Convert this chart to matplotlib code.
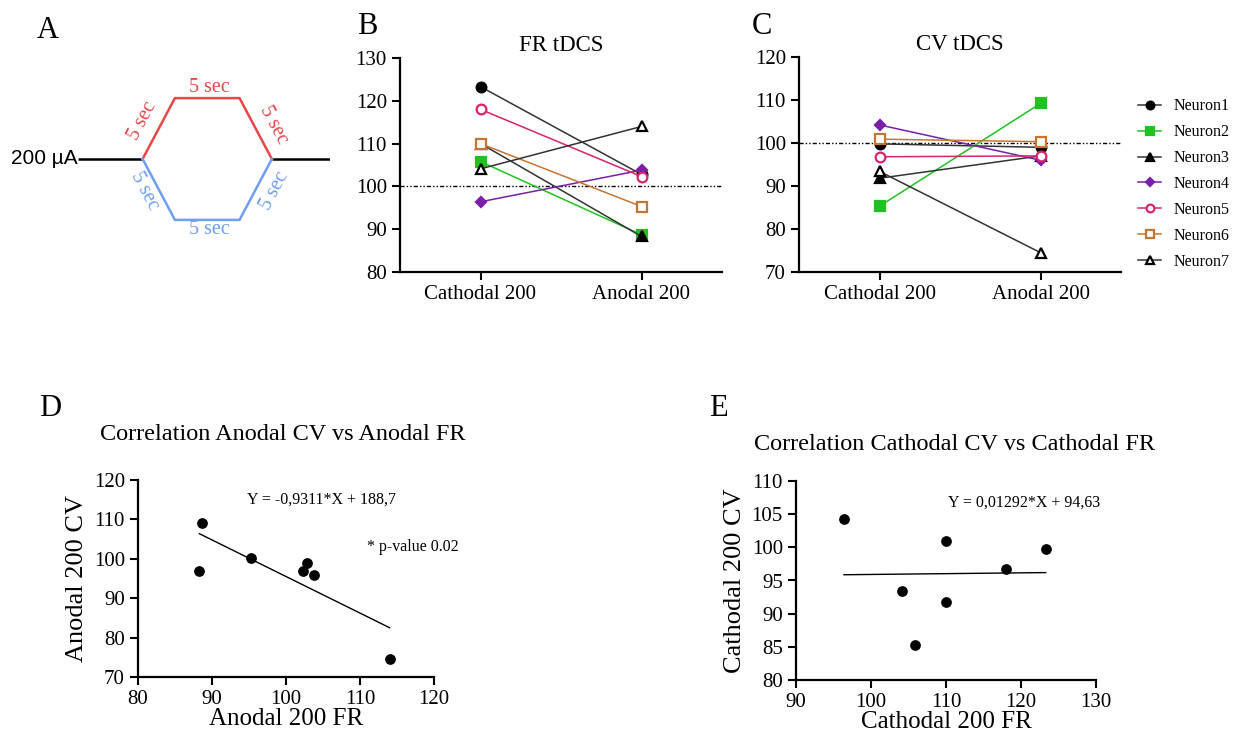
import numpy as np
import matplotlib
matplotlib.use("Agg")
import matplotlib.pyplot as plt

plt.rcParams['font.family'] = ['Liberation Serif', 'DejaVu Serif']

W, H = 1241, 735

# ---- data ----
neurons = ['Neuron1', 'Neuron2', 'Neuron3', 'Neuron4', 'Neuron5', 'Neuron6', 'Neuron7']
conditions = ['Cathodal 200', 'Anodal 200']
fr_cathodal = [123.3, 105.8, 110.0, 96.4, 118.0, 110.0, 104.1]
fr_anodal = [102.8, 88.7, 88.3, 103.8, 102.3, 95.3, 114.0]
cv_cathodal = [99.8, 85.3, 91.8, 104.2, 96.8, 100.9, 93.4]
cv_anodal = [99.0, 109.2, 97.0, 96.0, 97.0, 100.3, 74.5]

# stimulation schematic (arbitrary time units, normalised current)
wave_t = [-2.0, 0.0, 1.0, 3.0, 4.0, 5.8]
wave_up = [0, 0, 1, 1, 0, 0]
wave_down = [0, 0, -1, -1, 0, 0]

# ---- styles ----
colors = ['black', '#1fc21f', 'black', '#7a1fa8', '#d8246e', '#c87530', 'black']
line_colors = ['#333333', '#1fc21f', '#333333', '#7a1fa8', '#d8246e', '#c87530', '#333333']
markers = ['o', 's', '^', 'D', 'o', 's', '^']
filled = [True, True, True, True, False, False, False]
msizes = [7, 7, 7, 5, 7, 7, 7]


def px_axes(fig, left, top, right, bottom):
    return fig.add_axes([left / W, 1 - bottom / H, (right - left) / W, (bottom - top) / H])


def style_axes(ax, fs=15):
    for s in ['top', 'right']:
        ax.spines[s].set_visible(False)
    for s in ['left', 'bottom']:
        ax.spines[s].set_linewidth(1.6)
    ax.tick_params(direction='out', length=6, width=1.5, labelsize=fs)


fig = plt.figure(figsize=(W / 100, H / 100), dpi=100)

# ---- panel A ----
axA = px_axes(fig, 78, 78, 330, 240)
axA.set_xlim(-2, 5.8)
axA.set_ylim(-1.33, 1.33)
axA.axis('off')
red, blue = '#e8474a', '#6f9ff2'
axA.plot(wave_t[:2], wave_up[:2], color='black', lw=1.8, solid_capstyle='butt')
axA.plot(wave_t[-2:], wave_up[-2:], color='black', lw=1.8, solid_capstyle='butt')
axA.plot(wave_t[1:5], wave_up[1:5], color=red, lw=1.8)
axA.plot(wave_t[1:5], wave_down[1:5], color=blue, lw=1.8)
ang = 62
fsA = 14.5
axA.text(2.06, 1.18, '5 sec', color=red, ha='center', va='center', fontsize=fsA)
axA.text(2.06, -1.16, '5 sec', color=blue, ha='center', va='center', fontsize=fsA)
axA.text(0.0, 0.63, '5 sec', color=red, ha='center', va='center', fontsize=fsA, rotation=ang)
axA.text(4.05, 0.56, '5 sec', color=red, ha='center', va='center', fontsize=fsA, rotation=-ang)
axA.text(0.07, -0.53, '5 sec', color=blue, ha='center', va='center', fontsize=fsA, rotation=-ang)
axA.text(4.1, -0.53, '5 sec', color=blue, ha='center', va='center', fontsize=fsA, rotation=ang)
axA.text(-2.0, 0, '200 µA', ha='right', va='center', fontsize=15,
         family=['Liberation Sans', 'DejaVu Sans'])

fig.text(48 / W, 1 - 30 / H, 'A', fontsize=22, ha='center', va='center')
fig.text(367 / W, 1 - 26 / H, 'B', fontsize=22, ha='center', va='center')
fig.text(762 / W, 1 - 26 / H, 'C', fontsize=22, ha='center', va='center')
fig.text(50 / W, 1 - 408 / H, 'D', fontsize=22, ha='center', va='center')
fig.text(718 / W, 1 - 409 / H, 'E', fontsize=22, ha='center', va='center')


def paired_plot(ax, before, after, title, ylim, yticks):
    xs = np.arange(len(conditions))
    for i in range(len(neurons)):
        mfc = colors[i] if filled[i] else 'white'
        ax.plot(xs, [before[i], after[i]], color=line_colors[i], lw=1.1,
                marker=markers[i], ms=msizes[i], mfc=mfc, mec=colors[i], mew=1.6,
                label=neurons[i], zorder=3)
    ax.axhline(100, color='black', lw=1.0, ls=(0, (3, 1.5, 1, 1.5, 1, 1.5)), zorder=2)
    ax.set_xlim(-0.5, 1.5)
    ax.set_ylim(*ylim)
    ax.set_yticks(yticks)
    ax.set_xticks(xs)
    ax.set_xticklabels(conditions)
    ax.set_title(title, fontsize=16.5, pad=5)
    style_axes(ax)


axB = px_axes(fig, 400, 58, 722, 272)
paired_plot(axB, fr_cathodal, fr_anodal, 'FR tDCS', (80, 130), range(80, 131, 10))
axC = px_axes(fig, 799, 57, 1121, 272)
paired_plot(axC, cv_cathodal, cv_anodal, 'CV tDCS', (70, 120), range(70, 121, 10))

handles, labels = axC.get_legend_handles_labels()
fig.legend(handles, labels, loc='upper left', bbox_to_anchor=(1124 / W, 1 - 84 / H),
           frameon=False, fontsize=11.5, labelspacing=0.62, handlelength=1.4,
           handletextpad=0.8, markerscale=0.8)


def corr_plot(ax, x, y, xlabel, ylabel, xlim, ylim, xticks, yticks):
    ax.scatter(x, y, s=45, color='black', zorder=3)
    slope, icpt = np.polyfit(x, y, 1)
    xx = np.array([min(x), max(x)])
    ax.plot(xx, slope * xx + icpt, color='black', lw=1.0)
    ax.set_xlim(*xlim)
    ax.set_ylim(*ylim)
    ax.set_xticks(xticks)
    ax.set_yticks(yticks)
    ax.set_xlabel(xlabel, fontsize=18, labelpad=-1)
    ax.set_ylabel(ylabel, fontsize=19, labelpad=4)
    style_axes(ax)
    return slope, icpt


axD = px_axes(fig, 138, 480, 434, 677)
corr_plot(axD, fr_anodal, cv_anodal, 'Anodal 200 FR', 'Anodal 200 CV',
          (80, 120), (70, 120), range(80, 121, 10), range(70, 121, 10))
fig.text(283 / W, 1 - 435 / H, 'Correlation Anodal CV vs Anodal FR', fontsize=17.5,
         ha='center', va='center')
axD.text(0.62, 0.9, 'Y = -0,9311*X + 188,7', transform=axD.transAxes, fontsize=11.5,
         ha='center', va='center')
axD.text(0.93, 0.66, '* p-value 0.02', transform=axD.transAxes, fontsize=11.5,
         ha='center', va='center')

axE = px_axes(fig, 796, 481, 1096, 680)
corr_plot(axE, fr_cathodal, cv_cathodal, 'Cathodal 200 FR', 'Cathodal 200 CV',
          (90, 130), (80, 110), range(90, 131, 10), range(80, 111, 5))
fig.text(955 / W, 1 - 445 / H, 'Correlation Cathodal CV vs Cathodal FR', fontsize=17.5,
         ha='center', va='center')
axE.text(0.76, 0.89, 'Y = 0,01292*X + 94,63', transform=axE.transAxes, fontsize=11.5,
         ha='center', va='center')

fig.savefig('out.png', dpi=100)
